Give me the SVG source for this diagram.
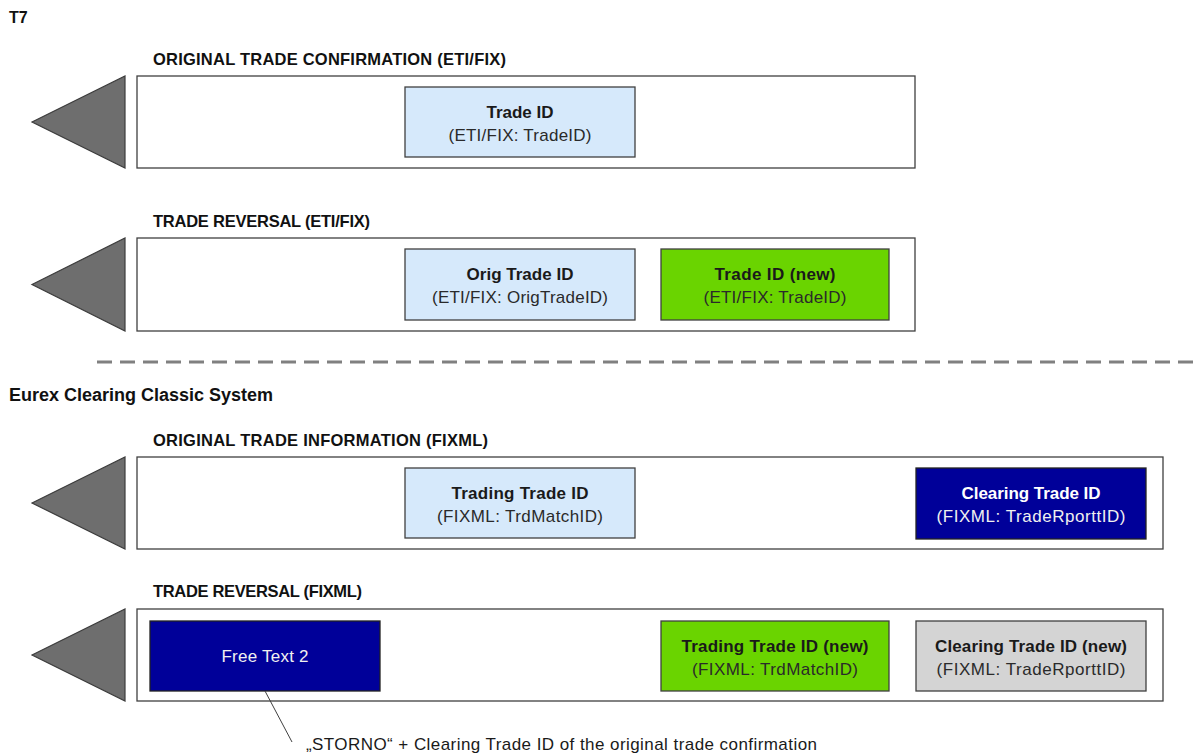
<svg xmlns="http://www.w3.org/2000/svg" width="1194" height="753" viewBox="0 0 1194 753">
<style>
text{font-family:"Liberation Sans",Arial,sans-serif;}
.sec{font-size:18px;font-weight:bold;fill:#111;}
.hdr{font-size:16.5px;font-weight:bold;fill:#111;}
.t1{font-size:17px;font-weight:bold;fill:#1a1a1a;text-anchor:middle;}
.t2{font-size:17px;fill:#2a2a2a;text-anchor:middle;}
.w1{fill:#ffffff;}
.w2{fill:#f0f0f0;}
.frame{fill:#ffffff;stroke:#404040;stroke-width:1.3;}
.tri{fill:#6e6e6e;stroke:#3c3c3c;stroke-width:1.2;}
.lb{fill:#d6e9fb;stroke:#404040;stroke-width:1.3;}
.gr{fill:#6ad400;stroke:#404040;stroke-width:1.3;}
.db{fill:#000099;stroke:#222;stroke-width:1.3;}
.gy{fill:#d4d4d4;stroke:#404040;stroke-width:1.3;}
</style>
<rect width="1194" height="753" fill="#ffffff"/>

<g id="labels">
<text x="9" y="23" font-size="16" font-weight="bold" fill="#111">T7</text>
<text class="hdr" x="153" y="65" textLength="353">ORIGINAL TRADE CONFIRMATION (ETI/FIX)</text>
<text class="hdr" x="153" y="227" textLength="217">TRADE REVERSAL (ETI/FIX)</text>
<text class="sec" x="9" y="401" textLength="264">Eurex Clearing Classic System</text>
<text class="hdr" x="153" y="446" textLength="335">ORIGINAL TRADE INFORMATION (FIXML)</text>
<text class="hdr" x="153" y="597" textLength="209">TRADE REVERSAL (FIXML)</text>
</g>

<g id="separator">
<line x1="97" y1="362" x2="1194" y2="362" stroke="#808080" stroke-width="3" stroke-dasharray="15 8"/>
</g>

<g id="row1">
<polygon class="tri" points="32,122 125,76 125,168"/>
<rect class="frame" x="137" y="76" width="778" height="92"/>
</g>
<g id="row2">
<polygon class="tri" points="32,284.5 125,238 125,331"/>
<rect class="frame" x="137" y="238" width="778" height="93"/>
</g>
<g id="row3">
<polygon class="tri" points="32,503 125,457 125,549"/>
<rect class="frame" x="137" y="457" width="1026" height="92"/>
</g>
<g id="row4">
<polygon class="tri" points="32,655 125,609 125,701"/>
<rect class="frame" x="137" y="609" width="1026" height="92"/>
</g>

<g id="n1">
<rect class="lb" x="405" y="87" width="230" height="70"/>
<text class="t1" x="520" y="118" textLength="67">Trade ID</text>
<text class="t2" x="520" y="141" textLength="143">(ETI/FIX: TradeID)</text>
</g>
<g id="n2">
<rect class="lb" x="405" y="249" width="230" height="71"/>
<text class="t1" x="520" y="280" textLength="107">Orig Trade ID</text>
<text class="t2" x="520" y="303" textLength="176">(ETI/FIX: OrigTradeID)</text>
</g>
<g id="n3">
<rect class="gr" x="661" y="249" width="228" height="71"/>
<text class="t1" x="775" y="280" textLength="121">Trade ID (new)</text>
<text class="t2" x="775" y="303" textLength="143">(ETI/FIX: TradeID)</text>
</g>
<g id="n4">
<rect class="lb" x="405" y="468" width="230" height="70"/>
<text class="t1" x="520" y="499" textLength="137">Trading Trade ID</text>
<text class="t2" x="520" y="522" textLength="166">(FIXML: TrdMatchID)</text>
</g>
<g id="n5">
<rect class="db" x="916" y="468" width="230" height="71"/>
<text class="t1 w1" x="1031" y="499" textLength="139">Clearing Trade ID</text>
<text class="t2 w2" x="1031" y="522" textLength="189">(FIXML: TradeRporttID)</text>
</g>
<g id="n6">
<rect class="db" x="150" y="621" width="230" height="70"/>
<text class="t2 w2" x="265" y="662" textLength="87">Free Text 2</text>
</g>
<g id="n7">
<rect class="gr" x="661" y="621" width="228" height="70"/>
<text class="t1" x="775" y="652" textLength="187">Trading Trade ID (new)</text>
<text class="t2" x="775" y="675" textLength="166">(FIXML: TrdMatchID)</text>
</g>
<g id="n8">
<rect class="gy" x="916" y="621" width="230" height="70"/>
<text class="t1" x="1031" y="652" textLength="192">Clearing Trade ID (new)</text>
<text class="t2" x="1031" y="675" textLength="189">(FIXML: TradeRporttID)</text>
</g>

<g id="connectors">
<line x1="265" y1="691" x2="292" y2="742" stroke="#404040" stroke-width="1"/>
</g>
<g id="note">
<text x="306" y="750" font-size="17" fill="#1a1a1a" textLength="511">„STORNO“ + Clearing Trade ID of the original trade confirmation</text>
</g>
</svg>
